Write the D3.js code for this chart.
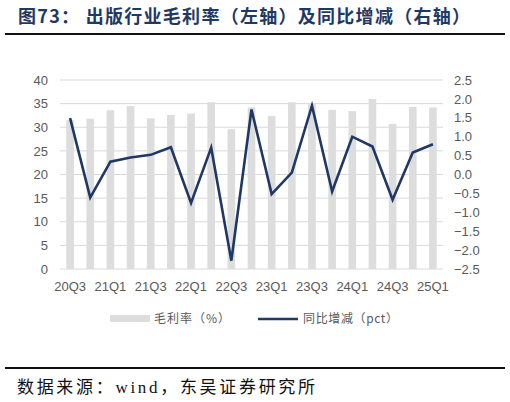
<!DOCTYPE html>
<html>
<head>
<meta charset="utf-8">
<script src="https://cdn.jsdelivr.net/npm/d3@7"></script>
<style>
  body { margin: 0; background: #fff; }
  svg { display: block; }
</style>
</head>
<body>
<script>
const quarters = ["20Q3", "20Q4", "21Q1", "21Q2", "21Q3", "21Q4", "22Q1", "22Q2", "22Q3", "22Q4",
  "23Q1", "23Q2", "23Q3", "23Q4", "24Q1", "24Q2", "24Q3", "24Q4", "25Q1"];
const grossMargin = [31.5, 31.8, 33.6, 34.5, 31.9, 32.6, 32.9, 35.3, 29.6, 34.2,
  32.4, 35.3, 35.0, 33.7, 33.4, 36.0, 30.7, 34.3, 34.2];
const yoyChange = [1.49, -0.61, 0.34, 0.45, 0.52, 0.72, -0.75, 0.71, -2.28, 1.72,
  -0.52, 0.05, 1.82, -0.45, 1.0, 0.74, -0.67, 0.58, 0.80];
const leftTicks = [0, 5, 10, 15, 20, 25, 30, 35, 40];
const rightTicks = [-2.5, -2.0, -1.5, -1.0, -0.5, 0.0, 0.5, 1.0, 1.5, 2.0, 2.5];

const w = 510, h = 402;
const margin = { left: 60, right: 67, top: 80, bottom: 133 };
const barColor = "#dddddd";
const lineColor = "#1f3864";
const tickColor = "#595959";

const svg = d3.select("body").append("svg")
  .attr("width", w)
  .attr("height", h);

// title and rules
svg.append("text")
  .attr("x", 18)
  .attr("y", 23)
  .attr("font-family", "Noto Sans CJK SC")
  .attr("font-weight", "bold")
  .attr("font-size", 18)
  .attr("fill", "#1f3864")
  .attr("textLength", 452)
  .attr("lengthAdjust", "spacing")
  .text("图73： 出版行业毛利率（左轴）及同比增减（右轴）");

svg.append("line")
  .attr("x1", 5).attr("x2", 505)
  .attr("y1", 34).attr("y2", 34)
  .attr("stroke", "#111").attr("stroke-width", 2);

svg.append("line")
  .attr("x1", 5).attr("x2", 505)
  .attr("y1", 368).attr("y2", 368)
  .attr("stroke", "#111").attr("stroke-width", 2);

svg.append("text")
  .attr("x", 17)
  .attr("y", 393)
  .attr("font-family", "Liberation Serif, Noto Sans CJK SC")
  .attr("font-size", 17)
  .attr("fill", "#111")
  .attr("textLength", 298)
  .attr("lengthAdjust", "spacing")
  .text("数据来源：wind，东吴证券研究所");

// scales
const x = d3.scaleBand()
  .domain(quarters)
  .range([margin.left, w - margin.right]);

const yLeft = d3.scaleLinear()
  .domain([0, 40])
  .range([h - margin.bottom, margin.top]);

const yRight = d3.scaleLinear()
  .domain([-2.5, 2.5])
  .range([h - margin.bottom, margin.top]);

// gridlines
svg.append("g")
  .selectAll("line")
  .data(leftTicks)
  .enter()
  .append("line")
  .attr("x1", margin.left)
  .attr("x2", w - margin.right)
  .attr("y1", (d) => yLeft(d))
  .attr("y2", (d) => yLeft(d))
  .attr("stroke", "#d9d9d9")
  .attr("stroke-width", 1);

// bars
const barWidth = x.bandwidth() * 0.38;
svg.append("g")
  .selectAll("rect")
  .data(grossMargin)
  .enter()
  .append("rect")
  .attr("x", (d, i) => x(quarters[i]) + (x.bandwidth() - barWidth) / 2)
  .attr("y", (d) => yLeft(d))
  .attr("width", barWidth)
  .attr("height", (d) => yLeft(0) - yLeft(d))
  .attr("fill", barColor);

// line
const line = d3.line()
  .x((d, i) => x(quarters[i]) + x.bandwidth() / 2)
  .y((d) => yRight(d));

svg.append("path")
  .datum(yoyChange)
  .attr("d", line)
  .attr("fill", "none")
  .attr("stroke", lineColor)
  .attr("stroke-width", 2.6)
  .attr("stroke-linejoin", "miter");

// axes
const leftAxis = svg.append("g")
  .attr("transform", `translate(${margin.left - 12},0)`)
  .call(d3.axisLeft(yLeft).tickValues(leftTicks).tickSize(0).tickPadding(0));

const rightAxis = svg.append("g")
  .attr("transform", `translate(${w - margin.right + 11},0)`)
  .call(d3.axisRight(yRight).tickValues(rightTicks).tickSize(0).tickPadding(0)
    .tickFormat(d3.format(".1f")));

const bottomAxis = svg.append("g")
  .attr("transform", `translate(0,${h - margin.bottom + 10})`)
  .call(d3.axisBottom(x).tickValues(quarters.filter((d, i) => i % 2 === 0)).tickSize(0).tickPadding(0));

[leftAxis, rightAxis, bottomAxis].forEach((g) => {
  g.select(".domain").remove();
  g.selectAll("text")
    .attr("font-family", "Liberation Sans, Arial, sans-serif")
    .attr("font-size", 13)
    .attr("fill", tickColor);
});
bottomAxis.selectAll("text").attr("dy", "0.9em");

// legend
const legend = svg.append("g")
  .attr("font-family", "Noto Sans CJK SC")
  .attr("font-size", 12)
  .attr("fill", tickColor);

legend.append("rect")
  .attr("x", 110).attr("y", 315)
  .attr("width", 40).attr("height", 7)
  .attr("fill", barColor);

legend.append("text")
  .attr("x", 154).attr("y", 323)
  .attr("textLength", 76)
  .attr("lengthAdjust", "spacing")
  .text("毛利率（%）");

legend.append("line")
  .attr("x1", 258).attr("x2", 298)
  .attr("y1", 319).attr("y2", 319)
  .attr("stroke", lineColor).attr("stroke-width", 2.6);

legend.append("text")
  .attr("x", 303).attr("y", 323)
  .attr("textLength", 95)
  .attr("lengthAdjust", "spacing")
  .text("同比增减（pct）");
</script>
</body>
</html>
